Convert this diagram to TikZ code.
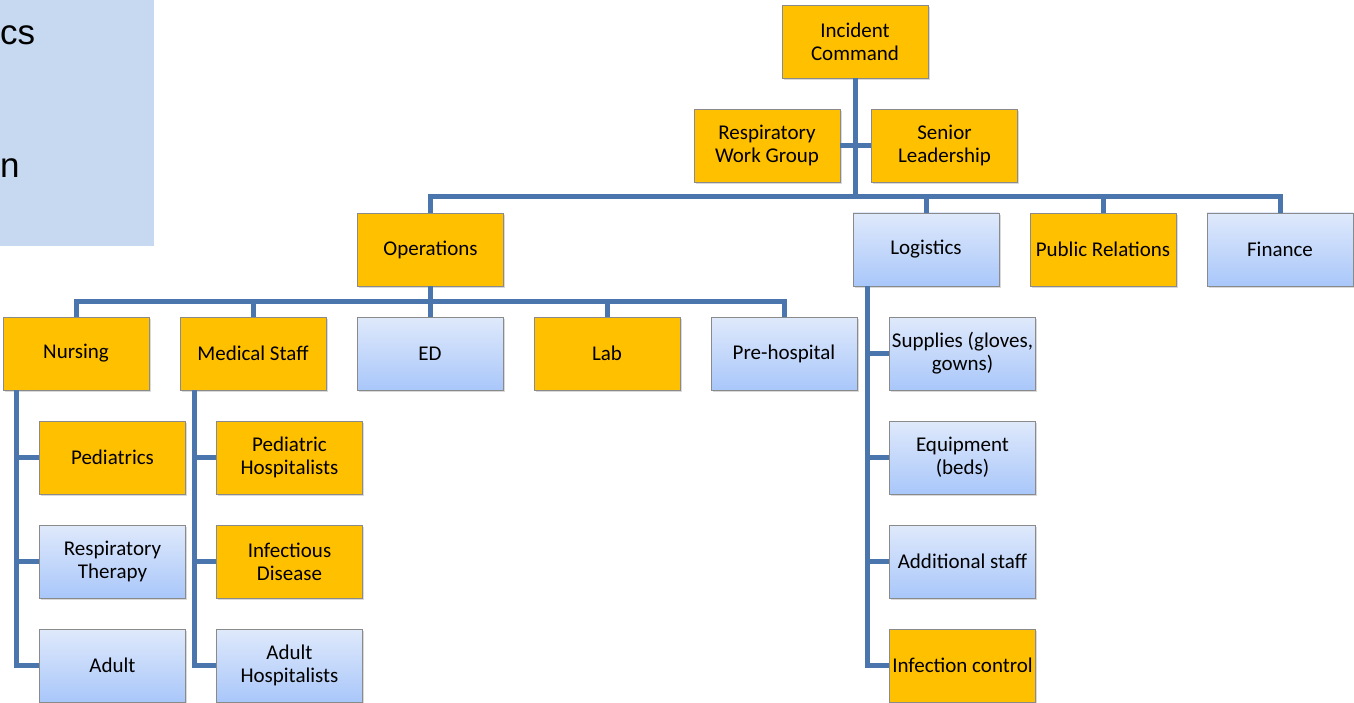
\documentclass[tikz,border=0pt]{standalone}
\usepackage{fontspec}
\setmainfont{Carlito}
\newfontfamily\panelfont{Liberation Sans}
\usetikzlibrary{positioning,shadows}

\definecolor{cmdgold}{HTML}{FFC000}
\definecolor{boxedge}{HTML}{8A8A8A}
\definecolor{paletop}{HTML}{DFE9FB}
\definecolor{palebot}{HTML}{A9C7FA}
\definecolor{linkblue}{HTML}{4A76AD}
\definecolor{panelblue}{HTML}{C6D9F1}

\tikzset{
  unit/.style={rectangle, draw=boxedge, line width=0.8pt, minimum width=146pt,
    minimum height=73pt, inner sep=0pt, align=center,
    font=\fontsize{21}{23}\selectfont,
    drop shadow={opacity=0.3, shadow xshift=1.5pt, shadow yshift=-2pt}},
  goldunit/.style={unit, fill=cmdgold},
  paleunit/.style={unit, top color=paletop, bottom color=palebot},
  link/.style={draw=linkblue, line width=5pt}
}

\begin{document}
\begin{tikzpicture}[x=1pt,y=-1pt,on grid,node distance=104pt and 177pt]
  \useasboundingbox (0,0) rectangle (1354,703);
  % cut-off slide panel
  \fill[panelblue] (0,0) rectangle (154,246);
  \node[anchor=base west, inner sep=0pt, font=\panelfont\fontsize{35}{40}\selectfont] (pcs) at (0,45) {cs};
  \node[anchor=base west, inner sep=0pt, font=\panelfont\fontsize{35}{40}\selectfont] (pn) at (0,178) {n};

  % command level
  \node[goldunit] (ic) at (855,41.5) {Incident\\Command};
  \node[goldunit] (rwg) at (767,145.5) {Respiratory\\Work Group};
  \node[goldunit] (sl) at (944.5,145.5) {Senior\\Leadership};
  \coordinate (topbus) at (855,197);

  % sections
  \node[goldunit] (ops) at (430.5,249.5) {Operations};
  \node[paleunit] (log) at (926,249.5) {Logistics};
  \node[goldunit, right=of log] (pr) {Public Relations};
  \node[paleunit, right=of pr] (fin) {Finance};

  % operations branches
  \node[goldunit] (nur) at (76,353.5) {Nursing};
  \node[goldunit, right=of nur] (med) {Medical Staff};
  \node[paleunit, right=of med] (ed) {ED};
  \node[goldunit, right=of ed] (lab) {Lab};
  \node[paleunit, right=of lab] (pre) {Pre-hospital};
  \coordinate (opsbus) at (430.5,301);

  % nursing
  \node[goldunit, below right=104pt and 36.5pt of nur] (ped) {Pediatrics};
  \node[paleunit, below=of ped] (rt) {Respiratory\\Therapy};
  \node[paleunit, below=of rt] (adult) {Adult};
  \coordinate (nurtrunk) at ([xshift=-60pt]nur.south);

  % medical staff
  \node[goldunit, below right=104pt and 36.5pt of med] (pedhosp) {Pediatric\\Hospitalists};
  \node[goldunit, below=of pedhosp] (infdis) {Infectious\\Disease};
  \node[paleunit, below=of infdis] (adhosp) {Adult\\Hospitalists};
  \coordinate (medtrunk) at ([xshift=-59pt]med.south);

  % logistics
  \node[paleunit, below right=104pt and 36.5pt of log] (sup) {Supplies (gloves,\\gowns)};
  \node[paleunit, below=of sup] (equip) {Equipment\\(beds)};
  \node[paleunit, below=of equip] (staff) {Additional staff};
  \node[goldunit, below=of staff] (infc) {Infection control};
  \coordinate (logtrunk) at ([xshift=-59pt]log.south);

  % connectors
  \draw[link] (ic.south) -- (topbus);
  \draw[link] (rwg.east) -- (sl.west);
  \draw[link] (ops.north) |- (topbus) -| (fin.north);
  \foreach \s in {log,pr} \draw[link] (\s.north) -- (\s.north |- topbus);
  \draw[link] (ops.south) -- (opsbus);
  \draw[link] (nur.north) |- (opsbus) -| (pre.north);
  \foreach \s in {med,ed,lab} \draw[link] (\s.north) -- (\s.north |- opsbus);
  \draw[link] (nurtrunk) |- (adult.west);
  \foreach \s in {ped,rt} \draw[link] (nurtrunk |- \s.west) -- (\s.west);
  \draw[link] (medtrunk) |- (adhosp.west);
  \foreach \s in {pedhosp,infdis} \draw[link] (medtrunk |- \s.west) -- (\s.west);
  \draw[link] (logtrunk) |- (infc.west);
  \foreach \s in {sup,equip,staff} \draw[link] (logtrunk |- \s.west) -- (\s.west);
\end{tikzpicture}
\end{document}
